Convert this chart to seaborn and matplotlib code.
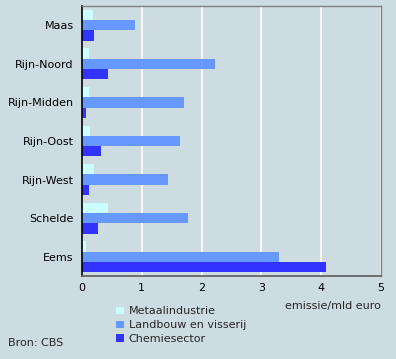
import matplotlib
matplotlib.use("Agg")
import matplotlib.pyplot as plt
import seaborn as sns
import pandas as pd

regions = ["Maas", "Rijn-Noord", "Rijn-Midden", "Rijn-Oost", "Rijn-West", "Schelde", "Eems"]
metaal = [0.19, 0.12, 0.12, 0.14, 0.20, 0.44, 0.07]
landbouw = [0.88, 2.23, 1.71, 1.64, 1.43, 1.78, 3.29]
chemie = [0.20, 0.44, 0.07, 0.31, 0.12, 0.27, 4.08]
series = ["Metaalindustrie", "Landbouw en visserij", "Chemiesector"]
colors = ["#ccffff", "#6699ff", "#3333ff"]
xticks = [0, 1, 2, 3, 4, 5]

rows = []
for s, vals in zip(series, [metaal, landbouw, chemie]):
    for r, v in zip(regions, vals):
        rows.append({"regio": r, "sector": s, "waarde": v})
df = pd.DataFrame(rows)

bg = "#cddce1"
sns.set_theme(style="white")
plt.rcParams["font.family"] = ["DejaVu Sans"]

fig = plt.figure(figsize=(3.96, 3.59), dpi=100, facecolor=bg)
ax = fig.add_axes([82/396, 1-276/359, (381-82)/396, (276-6)/359])
ax.set_facecolor(bg)

sns.barplot(data=df, y="regio", x="waarde", hue="sector", order=regions,
            hue_order=series, palette=colors, orient="h", width=0.8,
            saturation=1, ax=ax, legend=True, linewidth=0)

ax.set_xlim(0, 5)
ax.set_xticks(xticks)
ax.set_xticklabels([str(t) for t in xticks], fontsize=8, color="black")
ax.tick_params(axis="y", labelsize=8, length=0, pad=6, colors="black")
ax.tick_params(axis="x", length=0, pad=5)
ax.set_xlabel("")
ax.set_ylabel("")
ax.grid(axis="x", color="white", linewidth=1.2)
ax.set_axisbelow(True)
for side in ["top", "right"]:
    ax.spines[side].set_color("#808080")
    ax.spines[side].set_linewidth(1)
ax.spines["bottom"].set_color("#606060")
ax.spines["left"].set_color("black")
ax.spines["left"].set_linewidth(1.2)

handles, labels = ax.get_legend_handles_labels()
ax.get_legend().remove()
fig.legend(handles, labels, loc="upper left", bbox_to_anchor=(112/396, 1-302/359),
           frameon=False, fontsize=8, handlelength=0.7, handleheight=0.7,
           handletextpad=0.4, labelspacing=0.35, borderaxespad=0)

fig.text(381/396, 1-306/359, "emissie/mld euro", ha="right", va="center", fontsize=8)
fig.text(8/396, 1-343/359, "Bron: CBS", ha="left", va="center", fontsize=8)

fig.savefig("out.png", dpi=100, facecolor=bg)
